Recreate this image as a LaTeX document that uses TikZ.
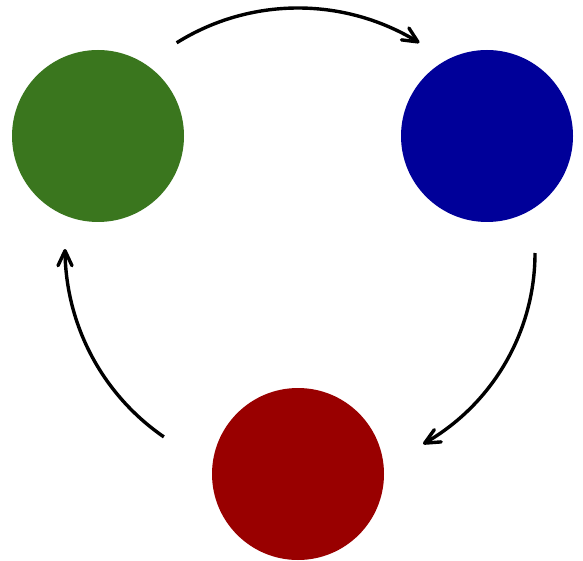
\documentclass[tikz,border=0pt]{standalone}
\usetikzlibrary{arrows.meta,bending}
\begin{document}
\begin{tikzpicture}[x=1pt,y=1pt,
  blob/.style={circle,minimum size=172pt,inner sep=0pt,draw=none},
  flow/.style={line width=3.4pt,-{Straight Barb[length=15pt,width=14pt,round]}}]
\useasboundingbox (0,0) rectangle (583,-561);
\definecolor{cgreen}{RGB}{58,118,30}
\definecolor{cblue}{RGB}{0,0,153}
\definecolor{cred}{RGB}{153,0,0}
\coordinate (ct) at (298,-237);
\coordinate (cr) at (316,-253);
\coordinate (cl) at (293,-249);
\node[blob,fill=cgreen] (g) at (98,-136) {};
\node[blob,fill=cblue] (b) at (487,-136) {};
\node[blob,fill=cred] (r) at (298,-474) {};
\draw[flow] ([shift={(122:229)}]ct) arc[start angle=122,end angle=58,radius=229];
\draw[flow] ([shift={(0:219)}]cr) arc[start angle=0,end angle=-60.7,radius=219];
\draw[flow] ([shift={(-124.5:228)}]cl) arc[start angle=-124.5,end angle=-180,radius=228];
\end{tikzpicture}
\end{document}
